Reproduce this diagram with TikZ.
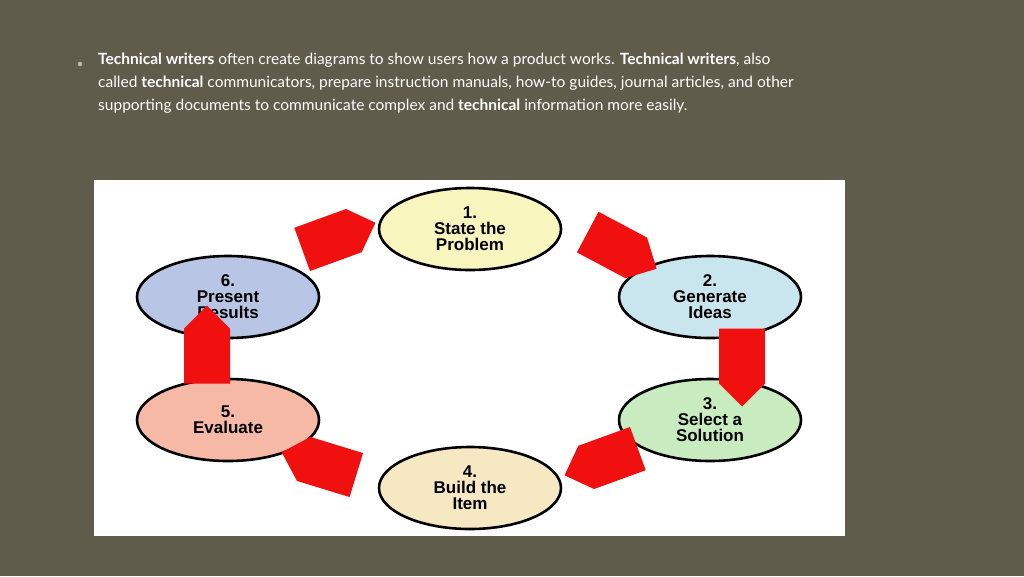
\documentclass[tikz,border=0pt]{standalone}
\usepackage{fontspec}
\setmainfont{Lato}
\setsansfont{Liberation Sans}
\usetikzlibrary{shapes.arrows,shapes.geometric,positioning}
\definecolor{slidebg}{HTML}{5F5C4C}
\definecolor{bullettext}{HTML}{FFFFFF}
\definecolor{bulletdot}{HTML}{C9C38A}
\definecolor{stepone}{HTML}{F8F5BE}
\definecolor{steptwo}{HTML}{C9E6EF}
\definecolor{stepthree}{HTML}{C8ECC0}
\definecolor{stepfour}{HTML}{F7E8C4}
\definecolor{stepfive}{HTML}{F5B9A6}
\definecolor{stepsix}{HTML}{B9C5E4}
\definecolor{arrowred}{HTML}{F01010}

\begin{document}
\begin{tikzpicture}[x=1pt,y=-1pt,
% Step ellipses
		stepnode/.style={ellipse
							    , draw=black, line width=2.6pt
							    , minimum width=182pt
							    , minimum height=82pt
							    , inner sep=0pt
							    , align=center
							    , font=\sffamily\bfseries\fontsize{17}{16}\selectfont},
% Red block arrows
		redarrow/.style={single arrow
							    , fill=arrowred
							    , draw=none
							    , minimum height=78pt
							    , minimum width=46pt
							    , single arrow head extend=0pt
							    , single arrow tip angle=90
							    , inner sep=10pt}
	]
	\fill[slidebg] (0,0) rectangle (1024,576);
	\useasboundingbox (0,0) rectangle (1024,576);
%% Bullet text
	\node[circle, fill=bulletdot, inner sep=1.6pt] (dot) at (80,64) {};
	\node[anchor=north west, align=left, text=bullettext, inner sep=0pt
	      , font=\fontsize{15.5}{23}\selectfont] (intro) at (98,53)
	  {\textbf{Technical writers} often create diagrams to show users how a product works. \textbf{Technical writers}, also\\
	   called \textbf{technical} communicators, prepare instruction manuals, how-to guides, journal articles, and other\\
	   supporting documents to communicate complex and \textbf{technical} information more easily.};
%% Diagram panel
	\fill[white] (94,180) rectangle (845,536);
	\node[stepnode, fill=stepone]   (s1) at (470,229) {1.\\State the\\Problem};
	\node[stepnode, fill=steptwo]   (s2) at (710,297) {2.\\Generate\\Ideas};
	\node[stepnode, fill=stepthree] (s3) at (710,420) {3.\\Select a\\Solution};
	\node[stepnode, fill=stepfour]  (s4) at (470,488) {4.\\Build the\\Item};
	\node[stepnode, fill=stepfive]  (s5) at (228,420) {5.\\Evaluate};
	\node[stepnode, fill=stepsix]   (s6) at (228,297) {6.\\Present\\Results};
%% Arrows between steps
	\node[redarrow, rotate=-28] (a12) at (612,245) {};
	\node[redarrow, rotate=-90] (a23) at (742,356) {};
	\node[redarrow, rotate=-160] (a34) at (612,458) {};
	\node[redarrow, rotate=163] (a45) at (330,467) {};
	\node[redarrow, rotate=90] (a56) at (207,356) {};
	\node[redarrow, rotate=20] (a61) at (328,240) {};
\end{tikzpicture}
\end{document}
